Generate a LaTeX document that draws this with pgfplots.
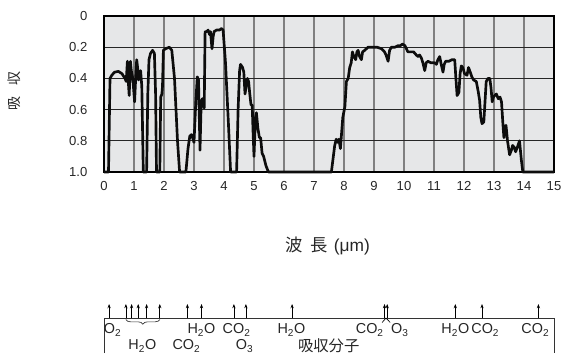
\documentclass[border=0pt]{standalone}
\usepackage{fontspec}
\setmainfont{Liberation Sans}
\newfontfamily\jp{Noto Sans CJK JP}
\usepackage{pgfplots}
\usepackage{pgfplotstable}
\pgfplotsset{compat=1.18}
\usetikzlibrary{decorations.pathreplacing, arrows.meta}

\definecolor{bg}{RGB}{230,231,232}
\definecolor{txt}{RGB}{38,38,38}

\pgfplotstableread{
x y
0.00 1.00
0.15 1.00
0.20 0.40
0.26 0.38
0.35 0.36
0.48 0.355
0.60 0.37
0.70 0.40
0.74 0.42
0.78 0.29
0.81 0.42
0.84 0.51
0.88 0.29
0.91 0.35
0.95 0.39
0.98 0.45
1.02 0.55
1.06 0.38
1.09 0.28
1.12 0.33
1.15 0.41
1.19 0.38
1.22 0.35
1.26 0.45
1.31 1.00
1.42 1.00
1.46 0.50
1.50 0.28
1.55 0.24
1.62 0.22
1.68 0.24
1.72 0.50
1.75 1.00
1.86 1.00
1.89 0.52
1.93 0.50
1.95 0.45
1.98 0.22
2.05 0.21
2.18 0.20
2.26 0.22
2.35 0.40
2.45 0.80
2.52 1.00
2.73 1.00
2.80 0.85
2.86 0.77
2.92 0.76
3.00 0.81
3.06 0.55
3.11 0.39
3.15 0.41
3.20 0.86
3.24 0.55
3.28 0.53
3.34 0.59
3.37 0.10
3.42 0.10
3.47 0.09
3.52 0.12
3.55 0.10
3.60 0.21
3.64 0.13
3.67 0.10
3.75 0.09
3.85 0.09
3.92 0.08
3.97 0.09
4.05 0.30
4.15 0.70
4.22 1.00
4.42 1.00
4.47 0.60
4.52 0.35
4.55 0.31
4.62 0.33
4.66 0.36
4.70 0.50
4.74 0.45
4.78 0.40
4.82 0.42
4.86 0.50
4.90 0.57
4.94 0.57
4.97 0.75
5.00 0.90
5.05 0.65
5.08 0.62
5.13 0.72
5.18 0.78
5.22 0.78
5.27 0.88
5.32 0.90
5.40 0.96
5.48 1.00
7.58 1.00
7.69 0.83
7.74 0.79
7.78 0.81
7.83 0.79
7.88 0.85
7.96 0.65
8.03 0.58
8.08 0.42
8.14 0.40
8.19 0.33
8.24 0.30
8.28 0.23
8.33 0.26
8.39 0.28
8.43 0.23
8.47 0.22
8.52 0.26
8.58 0.28
8.62 0.23
8.69 0.22
8.80 0.20
8.95 0.20
9.10 0.20
9.25 0.21
9.35 0.23
9.40 0.25
9.47 0.29
9.52 0.22
9.58 0.20
9.70 0.20
9.80 0.19
9.88 0.19
9.95 0.18
10.03 0.19
10.08 0.21
10.13 0.23
10.25 0.23
10.32 0.23
10.41 0.25
10.47 0.26
10.52 0.25
10.58 0.27
10.63 0.30
10.69 0.35
10.74 0.30
10.80 0.29
10.90 0.30
11.02 0.30
11.08 0.31
11.13 0.28
11.19 0.26
11.24 0.31
11.30 0.36
11.34 0.31
11.39 0.29
11.50 0.29
11.60 0.28
11.69 0.28
11.73 0.40
11.77 0.51
11.83 0.49
11.87 0.37
11.91 0.32
11.96 0.33
12.02 0.37
12.10 0.38
12.15 0.33
12.19 0.35
12.26 0.39
12.32 0.41
12.41 0.42
12.47 0.48
12.52 0.54
12.56 0.65
12.60 0.69
12.66 0.68
12.70 0.55
12.74 0.42
12.80 0.40
12.86 0.40
12.90 0.46
12.94 0.55
12.98 0.52
13.02 0.51
13.08 0.50
13.14 0.53
13.20 0.52
13.25 0.55
13.30 0.70
13.33 0.78
13.37 0.74
13.40 0.70
13.45 0.80
13.52 0.89
13.58 0.86
13.62 0.83
13.67 0.84
13.72 0.87
13.78 0.84
13.85 0.80
13.91 0.92
13.96 1.00
15.00 1.00
}\spectrum

\pgfplotstableread{
x y v
0.17 35 14
0.73 35 14
0.92 35 14
1.14 35 14
1.42 35 14
1.86 35 14
2.78 35 14
3.25 35 14
4.33 35 14
4.73 35 14
6.27 35 14
9.35 35 14
9.44 35 14
11.71 35 14
12.60 35 14
14.48 35 14
}\molarrows

\begin{document}
\begin{tikzpicture}
\useasboundingbox (0,0) rectangle (422.25pt,-264.75pt);
\begin{axis}[
  at={(78pt,-12pt)}, anchor=north west,
  width=337.5pt, height=117pt, scale only axis,
  xmin=0, xmax=15, ymin=0, ymax=1, y dir=reverse,
  xtick={0,1,...,15}, ytick={0,0.2,0.4,0.6,0.8,1},
  yticklabels={0,0.2,0.4,0.6,0.8,1.0},
  grid=major,
  x grid style={black!50, line width=0.9pt},
  y grid style={black!85, line width=0.6pt},
  axis line style={black, line width=1.1pt},
  major tick length=0pt,
  axis background/.style={fill=bg},
  clip=false,
  /pgf/number format/assume math mode=true,
  tick label style={font=\fontsize{9.8}{11}\selectfont, text=txt},
  xticklabel style={yshift=-3.5pt},
  yticklabel style={xshift=-9pt},
  xlabel={{\jp 波}\hspace{0.45em}{\jp 長}\hspace{0.35em}(μm)},
  xlabel style={at={(axis description cs:0.497,-0.474)}, anchor=center, font=\fontsize{13}{15}\selectfont, text=txt},
  ylabel={\jp 吸\hspace{0.8em}収},
  ylabel style={at={(axis description cs:-0.2,0.52)}, anchor=center, font=\fontsize{10.5}{12}\selectfont, text=txt},
]
\addplot[black!95, line width=2pt, line join=round, mark=none] table[x=x, y=y] {\spectrum};
\end{axis}

\begin{axis}[
  at={(78pt,-238.5pt)}, anchor=north west,
  width=337.5pt, height=26.25pt, scale only axis,
  xmin=0, xmax=15, ymin=0, ymax=35,
  hide axis, clip=false,
]
\addplot[black!80, line width=0.6pt, mark=none] coordinates {(0,0) (0,35) (15,35) (15,0)};
\addplot[black, line width=0.5pt, quiver={u=0, v=\thisrow{v}}, -{Stealth[length=3.2pt, width=2.4pt]}] table[x=x, y=y] {\molarrows};
\draw[decorate, decoration={brace, mirror, amplitude=3.5pt}, black!80, line width=0.5pt] (axis cs:0.73,33.5) -- (axis cs:1.86,33.5);
\draw[black, line width=0.5pt] (axis cs:9.27,30.5) -- (axis cs:9.4,35) -- (axis cs:9.54,30.5);
\begin{scope}[every node/.style={font=\fontsize{10.8}{12}\selectfont, text=txt, inner sep=0pt}]
\node at (axis cs:0.29,23) {O\textsubscript{2}};
\node at (axis cs:3.25,23) {H\textsubscript{2}O};
\node at (axis cs:4.42,23) {CO\textsubscript{2}};
\node at (axis cs:6.25,23) {H\textsubscript{2}O};
\node at (axis cs:8.86,23) {CO\textsubscript{2}};
\node at (axis cs:9.86,23) {O\textsubscript{3}};
\node at (axis cs:11.71,23) {H\textsubscript{2}O};
\node at (axis cs:12.71,23) {CO\textsubscript{2}};
\node at (axis cs:14.38,23) {CO\textsubscript{2}};
\node at (axis cs:1.28,7) {H\textsubscript{2}O};
\node at (axis cs:2.75,7) {CO\textsubscript{2}};
\node at (axis cs:4.69,7) {O\textsubscript{3}};
\node[font=\jp\fontsize{11.5}{13}\selectfont] at (axis cs:7.49,7) {吸収分子};
\end{scope}
\end{axis}
\end{tikzpicture}
\end{document}
